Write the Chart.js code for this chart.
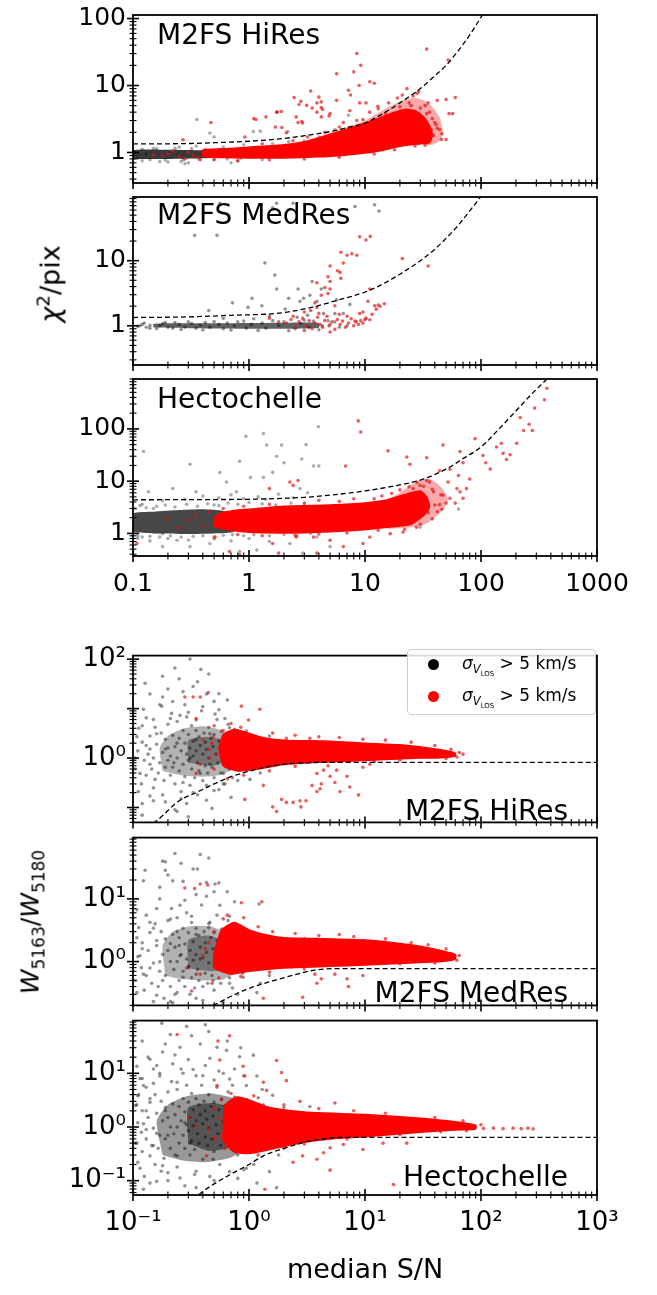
<!DOCTYPE html>
<html>
<head>
<meta charset="utf-8">
<script src="https://cdn.jsdelivr.net/npm/chart.js@4.4.1/dist/chart.umd.min.js"></script>
<style>
body{margin:0;background:#fff;width:657px;height:1295px;position:relative;overflow:hidden;font-family:'DejaVu Sans',sans-serif;}
canvas{position:absolute;left:0;}
.t{position:absolute;white-space:nowrap;line-height:1;color:#000;}
.t sub,.t sup{font-size:68%;line-height:0;}
.dot{position:absolute;width:11px;height:11px;border-radius:50%;}
</style>
</head>
<body>
<script>
// ---- chi2/pix vs median S/N : M2FS HiRes ----
const hiChiCut = [[0.1,1.34],[0.3,1.36],[0.5,1.4],[1,1.47],[2,1.62],[3,1.78],[5,2.05],[7,2.35],[10,2.75],[15,4.0],[20,5.5],[30,9],[40,14],[50,20],[60,29],[70,41],[80,57],[90,78],[100,105],[105,120]];
const hiChiBlackCore = [[0.1,0.8],[0.1,1.08],[0.2,1.1],[0.4,1.08],[0.7,1.05],[1.0,1.02],[1.0,0.88],[0.7,0.84],[0.4,0.82],[0.2,0.8],[0.1,0.8]];
const hiChiBlack = [[0.355,3.1],[0.46,1.95],[0.5,1.7],[1.09,2.05],[1.25,2.08],[2.16,2.05],[7.2,3.6],[0.12,0.75],[0.15,1.15],[0.2,0.72],[0.25,1.2],[0.3,0.7],[0.35,1.25],[0.6,1.2],[0.8,0.74],[0.9,1.3],[1.3,0.78],[1.6,1.35],[2.2,1.45],[3,1.5],[4,1.7],[5.5,2.2],[0.28,0.68],[0.7,0.7],[1.5,1.1],[2.5,1.2],[3.5,1.3],[0.17,0.73],[0.26,0.73],[0.13,0.95],[0.45,0.92],[0.65,0.9],[0.1,0.9],[0.105,1.0],[0.11,0.82],[0.12,1.12],[0.14,0.78],[0.16,1.14],[0.19,0.77],[0.23,1.15],[0.27,0.78],[0.32,1.14],[0.37,0.8],[0.42,1.12],[0.5,0.8],[0.56,1.1],[0.65,0.8],[0.75,1.08],[0.85,0.82],[1.0,1.06],[1.1,0.85],[1.2,1.0],[1.4,0.9],[1.7,1.05],[2.0,0.88]];
const hiChiRedHalo = [[3,1.45],[6,2.2],[10,3.0],[14,4.2],[18,5.3],[22,6.2],[27,6.5],[32,6.0],[38,4.8],[44,3.3],[47,2.0],[44,1.5],[38,1.3],[30,1.3],[20,1.2],[10,1.0],[3,1.45]];
const hiChiRedCore = [[0.4,1.1],[0.7,1.15],[1,1.2],[2,1.3],[3,1.45],[4,1.65],[5.5,1.95],[8,2.4],[11,2.9],[14,3.4],[18,4.0],[22,4.4],[27,4.2],[32,3.4],[36,2.5],[38,1.8],[36,1.4],[30,1.35],[24,1.3],[19,1.22],[14,1.07],[10,0.98],[7,0.92],[4,0.86],[2,0.83],[1,0.83],[0.6,0.84],[0.4,0.88],[0.4,1.1]];
const hiChiRed = [[8.5,30],[34,35],[52,24],[9.2,20],[8.0,16],[5.7,15],[7.2,8.5],[8.9,10],[11,11.4],[12,10.8],[3.4,8.3],[4,6.7],[2.45,6.6],[4.2,5.7],[5.7,6],[7.5,7.2],[10.2,5.5],[2.7,5.2],[3.5,4.6],[4.3,4.4],[1.75,4.0],[1.15,3.1],[1.4,3.4],[2.85,2.9],[4.2,3.4],[23,9],[29,8.1],[50,6.2],[60,6.6],[42,6],[33,5],[57,3.8],[50,1.56],[39,1.8],[0.47,2.8],[1.1,3.2],[1.73,4.0],[1.9,4.1],[0.27,1.55],[0.92,1.7],[1.69,2.4],[1.92,2.36],[2.1,1.97],[2.8,5.8],[3.14,5.05],[3.85,5.5],[4.2,4.7],[5.0,3.8],[2.65,2.8],[2.9,2.76],[3.85,4.0],[4.9,3.5],[2.55,3.4],[9.0,5.5],[7.4,4.2],[11,4.0],[12.9,4.9],[9.6,3.1],[53,3.8],[45.6,1.57],[41,2.6],[37.5,2.16],[31.6,2.5],[35,5.5],[36,4],[0.2,0.95],[0.25,0.88],[0.3,1.0],[0.33,0.9],[0.36,0.85],[0.22,1.05],[0.28,0.8],[0.18,0.9],[0.38,0.78],[0.15,0.92],[1.3,1.35],[2.4,1.5],[3.2,1.7],[4.5,2.0],[6,2.4],[6.5,2.8],[8.5,3.0],[13,4.5],[16,5.5],[19,6.5],[21,7.2],[26,7.0],[28,7.6],[24,5.5],[30,3.5],[38,3.2],[42,2.3],[46,1.9],[0.5,0.78],[0.8,0.76],[1.5,0.78],[3,0.8],[6,0.85],[12,0.95],[18,1.1],[27,1.25],[33,1.28],[15,3.8],[20,4.8],[25,5.0],[30,4.6],[34,3.8],[40,2.8],[44,2.2]];

// ---- M2FS MedRes ----
const medChiCut = [[0.1,1.34],[0.3,1.37],[0.7,1.45],[1.8,1.56],[3.6,1.95],[5.7,2.45],[10,3.3],[15,4.6],[20,6.2],[30,10],[40,15],[50,22],[60,31],[70,43],[80,58],[90,76],[100,97]];
const medChiBlackCore = [[0.15,0.94],[0.15,1.07],[0.3,1.09],[0.6,1.09],[1,1.1],[2,1.11],[3,1.12],[4,1.1],[4,0.93],[3,0.91],[2,0.9],[1,0.9],[0.6,0.91],[0.3,0.92],[0.15,0.94]];
const medChiBlack = [[0.34,24.5],[0.53,24.5],[0.56,76],[1.6,65],[1.73,76],[2.4,76],[8.2,68],[12.1,72],[13.2,58],[1.37,9.2],[1.67,6.0],[1.73,3.67],[1.06,2.65],[0.72,2.25],[0.45,1.72],[0.98,1.92],[1.29,2.03],[2.2,2.65],[2.65,3.67],[3.5,4.8],[2.75,2.38],[2.96,2.65],[3.35,2.95],[3.85,2.38],[4.2,3.67],[5.7,2.5],[7.4,2.13],[2.05,1.81],[4.4,1.54],[5.5,1.54],[6.5,1.54],[0.11,0.98],[0.12,1.05],[0.13,0.95],[0.14,1.02],[0.16,0.9],[0.18,1.08],[0.2,0.95],[0.23,1.12],[0.26,0.88],[0.3,1.15],[0.4,0.86],[0.5,1.16],[0.7,0.86],[0.9,1.18],[1.2,0.85],[1.6,1.2],[2.2,0.84],[3,1.22],[4,0.87],[5,1.05],[5.5,1.15],[6,0.95],[7,1.0],[0.115,1.0],[0.125,1.1],[0.14,0.92],[0.17,1.0],[0.19,1.12],[0.22,0.92],[0.25,1.05],[0.28,0.95],[0.32,1.08],[0.35,0.92],[0.38,1.02],[0.42,1.12],[0.46,0.95],[0.55,1.05],[0.6,0.9],[0.65,1.1],[0.75,1.0],[0.8,1.15],[0.95,0.92],[1.05,1.05],[1.3,1.1],[1.4,0.92],[1.8,1.02],[2.0,1.15],[2.5,0.9],[2.8,1.08],[3.3,0.95],[3.6,1.18],[4.3,1.0],[4.8,1.2],[1.5,1.4],[2.6,1.35],[3.2,1.45],[0.6,1.3],[1.1,1.28]];
const medChiRed = [[3.85,4.57],[4.8,5.66],[5.0,8.3],[5.8,7.0],[6.2,13.5],[6.5,9.2],[7.0,12.1],[7.7,12.8],[8.5,12.1],[9.0,23.2],[10.2,20.8],[11.1,23.6],[5.0,4.8],[6.2,5.35],[6.1,6.6],[4.5,3.88],[5.0,3.67],[4.2,2.95],[4.8,3.12],[3.7,2.25],[3.85,1.92],[3.0,1.63],[3.4,1.72],[5.5,2.03],[9.0,1.54],[9.6,1.63],[10.6,2.38],[11,3.67],[12.1,2.03],[13,2.09],[14.7,2.18],[10.2,1.31],[11,1.24],[8.2,1.18],[21,10.8],[35,8.3],[2.1,1.1],[2.3,1.25],[2.5,0.95],[2.7,1.15],[2.9,1.3],[3.1,1.0],[3.3,1.2],[3.5,0.9],[3.7,1.1],[3.9,1.35],[4.1,1.05],[4.3,0.95],[4.5,1.2],[4.7,1.4],[4.9,1.0],[5.2,1.15],[5.5,0.88],[5.8,1.25],[6.1,1.05],[6.4,1.18],[6.8,0.95],[7.2,1.1],[7.6,1.28],[8.0,1.0],[8.4,1.15],[8.8,1.05],[9.2,1.2],[9.6,1.1],[10,1.25],[5.0,0.8],[3.0,0.85],[2.4,1.4],[1.8,1.15],[1.5,1.3],[6.0,1.5],[4.0,1.55],[7.0,1.4],[11.5,1.5],[12.5,1.8],[13.5,2.0]];

// ---- Hectochelle ----
const hecChiCut = [[0.1,4.4],[0.5,4.45],[1,4.5],[2,4.7],[3,4.9],[5,5.4],[10,6.5],[20,8.5],[30,10.5],[50,17],[70,27],[100,45],[140,95],[200,220],[270,450],[330,700],[380,950]];
const hecChiBlackCore = [[0.1,1.05],[0.1,2.4],[0.15,2.6],[0.25,2.8],[0.4,2.9],[0.6,2.7],[0.75,2.3],[0.75,1.1],[0.5,1.0],[0.3,0.98],[0.15,1.0],[0.1,1.05]];
const hecChiBlack = [[3.96,110],[1.33,81],[0.94,72],[1.42,49],[1.91,49],[3.1,50],[1.73,30],[0.83,24],[0.31,21],[0.123,37],[0.56,14.7],[2.0,22.5],[2.85,26.6],[4.0,19.5],[1.03,11.8],[0.64,9.6],[0.35,6.25],[0.22,7.2],[1.33,11.8],[1.6,14.7],[2.75,7.2],[3.6,19.5],[0.78,6.25],[0.136,6.25],[64,2.94],[29.8,1.31],[0.18,0.99],[0.31,0.56],[0.18,0.56],[0.46,0.64],[0.83,0.45],[1.17,0.48],[2.25,0.64],[2.9,0.42],[5.0,0.56],[3.85,0.85],[0.24,0.74],[0.12,3.6],[0.18,4.2],[0.28,4.5],[0.4,5.2],[0.55,4.8],[0.7,5.5],[0.9,4.6],[1.2,5.0],[1.8,5.6],[2.4,4.8],[3.2,6],[0.11,0.8],[0.14,0.72],[0.2,0.8],[0.3,0.75],[0.5,0.78],[0.7,0.72],[1,0.8],[1.5,0.7],[0.15,3.0],[0.5,3.5],[1.4,4.5],[0.105,3.0],[0.11,0.9],[0.115,3.4],[0.12,0.85],[0.13,3.1],[0.14,0.88],[0.16,3.3],[0.17,0.85],[0.19,3.5],[0.21,0.9],[0.23,3.2],[0.26,0.85],[0.29,3.6],[0.33,0.88],[0.36,3.3],[0.4,0.9],[0.44,3.7],[0.5,0.85],[0.55,3.4],[0.6,0.92],[0.66,3.8],[0.72,0.95],[0.8,3.6],[0.9,0.9],[1.0,3.9],[1.1,0.95],[1.3,3.7],[1.5,0.9],[1.7,3.5],[2.0,0.95],[2.3,3.8],[2.6,0.9],[3.0,3.5],[3.4,1.0],[0.7,2.0],[0.85,1.5],[1.2,2.5]];
const hecChiRedHalo = [[15,4.3],[20,6],[25,8.5],[30,10.5],[36,11],[42,9],[48,6.5],[52,4.5],[48,3],[42,2.2],[35,1.6],[28,1.35],[20,1.25],[15,1.3],[15,4.3]];
const hecChiRedCore = [[0.5,1.35],[0.52,2.2],[0.7,2.7],[1.2,3.0],[2,3.3],[5,3.5],[10,3.8],[15,4.3],[20,5.2],[25,6],[30,6.5],[34,5],[36,3.2],[32,2.2],[25,1.5],[18,1.35],[10,1.18],[5,1.08],[2,1.02],[1,1.05],[0.7,1.15],[0.5,1.35]];
const hecChiRed = [[8.75,142],[9.2,87],[6.8,19.5],[2.65,10.3],[2.4,8.3],[15.8,38],[22.9,29],[24.4,21],[34,28],[44,15.8],[47,49],[70,22.5],[66,37],[89,65],[104,31],[120,17],[136,45],[150,53],[166,26],[178,32],[203,53],[218,165],[233,93],[260,123],[277,93],[290,250],[353,360],[370,600],[110,22.5],[155,34],[52,9.6],[62,7.2],[75,7.2],[64,12.8],[54,16.9],[80,11],[36,9.6],[39,6.25],[47,5.4],[54,4.7],[60,3.8],[70,4.7],[44,3.55],[35,2.5],[66,6.25],[29.8,8.3],[26,7.2],[34,10.3],[1.6,0.64],[1.8,0.42],[3.6,0.85],[5.0,0.74],[3.85,0.42],[6.5,0.56],[9.6,0.64],[11,0.85],[16.5,0.99],[21.3,1.06],[27.8,1.31],[2.55,0.85],[0.68,0.45],[0.83,0.39],[0.108,0.64],[0.51,0.85],[1.09,1.5],[1.5,7.2],[2.25,9.6],[0.3,1.8],[0.35,2.2],[0.4,1.4],[0.45,2.6],[0.25,1.3],[0.2,2.0],[0.6,3.0],[0.9,3.3],[1.5,3.6],[3,3.8],[4,4.3],[6,4.1],[8,4.6],[12,4.6],[14,5.2],[17,5.8],[20,6.8],[0.8,0.95],[1.3,0.9],[2.5,0.92],[4,0.98],[7,1.02],[13,1.15],[22,1.2],[30,1.5],[38,1.9],[42,2.6],[40,3.5],[12,2.5],[7,2.2],[24,7.8],[28,9.5],[32,8],[38,7],[45,5.5],[50,3.8],[46,2.9]];

// ---- W5163/W5180 vs median S/N : M2FS HiRes ----
const hiWCut = [[0.13,0.04],[0.16,0.054],[0.25,0.137],[0.35,0.2],[0.5,0.3],[0.7,0.42],[1,0.54],[1.5,0.68],[2,0.75],[3,0.8],[5,0.82],[10,0.82],[100,0.82],[1000,0.82]];
const hiWBlackCore = [[0.18,0.55],[0.17,1.6],[0.2,2.8],[0.28,4],[0.4,4.4],[0.55,3.8],[0.7,2.6],[0.78,1.4],[0.72,0.6],[0.55,0.45],[0.4,0.42],[0.26,0.45],[0.18,0.55]];
const hiWBlackCore2 = [[0.3,0.8],[0.3,2.3],[0.45,2.7],[0.62,2.2],[0.66,1],[0.5,0.7],[0.3,0.8]];
const hiWBlack = [[0.31,101],[0.23,66],[0.385,62],[0.127,32.6],[0.14,19.8],[0.123,9.7],[0.18,17.2],[0.177,11.2],[0.22,13.9],[0.254,7.3],[0.21,6.3],[0.3,8.4],[0.35,5.9],[0.43,19.8],[0.51,7.8],[0.62,6.3],[0.68,4.1],[0.108,2.7],[0.104,1.0],[0.115,0.49],[0.111,0.21],[0.14,1.53],[0.14,0.75],[0.16,3.1],[0.155,0.37],[0.18,0.18],[0.19,1.53],[0.22,0.65],[0.24,2.0],[0.27,0.32],[0.31,1.0],[0.35,2.35],[0.38,0.49],[0.43,0.28],[0.46,3.1],[0.46,0.75],[0.56,1.53],[0.6,0.49],[0.68,0.87],[0.78,2.0],[0.83,0.57],[0.95,1.33],[1.02,0.37],[0.48,0.096],[0.29,0.12],[0.15,0.137],[0.24,0.083],[0.12,4.5],[0.13,1.8],[0.15,6],[0.2,0.9],[0.2,25],[0.25,40],[0.28,12],[0.33,28],[0.4,11],[0.5,14],[0.55,9.5],[0.65,3.2],[0.72,1.2],[0.9,2.4],[1.1,1.8],[1.3,0.9],[1.5,2.8],[0.26,0.21],[0.36,0.18],[0.5,0.22],[0.62,0.3],[0.12,0.12],[0.3,0.065],[0.7,0.16],
  [0.105,0.6],[0.11,1.4],[0.112,4.0],[0.118,0.3],[0.12,2.1],[0.125,0.9],[0.13,6.5],[0.13,0.45],[0.135,1.2],[0.14,2.8],[0.145,0.6],[0.15,0.25],[0.15,1.0],[0.155,4.2],[0.16,1.9],[0.165,0.5],[0.17,0.8],[0.17,12],[0.175,3.2],[0.18,1.3],[0.185,0.35],[0.19,2.4],[0.19,0.65],[0.2,4.8],[0.2,1.6],[0.21,0.45],[0.21,1.1],[0.215,8],[0.22,2.9],[0.225,0.8],[0.23,0.3],[0.23,1.7],[0.24,5.5],[0.24,1.0],[0.25,0.55],[0.25,2.5],[0.26,0.15],[0.26,1.4],[0.27,3.6],[0.27,0.75],[0.28,2.0],[0.28,0.42],[0.29,1.2],[0.29,6.8],[0.3,0.9],[0.3,3.0],[0.31,0.28],[0.31,1.6],[0.32,4.5],[0.32,0.6],[0.33,2.2],[0.33,1.1],[0.34,0.4],[0.35,1.4],[0.35,3.6],[0.36,0.8],[0.37,2.7],[0.37,0.55],[0.38,1.8],[0.39,9],[0.4,1.2],[0.4,0.35],[0.41,3.2],[0.42,0.7],[0.42,2.1],[0.43,1.5],[0.44,0.5],[0.45,4.2],[0.45,1.0],[0.47,2.5],[0.48,0.65],[0.49,1.7],[0.5,0.4],[0.5,3.0],[0.52,1.2],[0.53,6],[0.54,0.8],[0.55,2.2],[0.57,0.5],[0.58,3.5],[0.6,1.4],[0.6,0.3],[0.62,2.6],[0.64,0.9],[0.66,4.8],[0.68,0.6],[0.7,1.8],[0.72,0.4],[0.75,3.8],[0.78,1.1],[0.8,0.35],[0.85,2.6],[0.88,0.7],[0.95,3.5],[1.0,0.8],[1.05,2.2],[1.15,1.2],[1.25,0.5],[1.35,1.6],[0.19,0.13],[0.23,0.09],[0.33,0.2],[0.43,0.14],[0.55,0.23],[0.14,0.17],[0.12,0.07],[0.65,15],[0.18,45],[0.36,35],[0.45,50],[0.27,22],[0.55,20]];
const hiWRedCore = [[0.55,1.6],[0.6,3],[0.75,3.8],[0.95,3.3],[1.3,2.6],[2,2.3],[5,2.2],[10,2.0],[20,1.85],[35,1.6],[50,1.4],[60,1.25],[60,1.1],[45,1.02],[30,1.0],[15,0.93],[8,0.87],[4,0.82],[2,0.74],[1.2,0.6],[0.8,0.55],[0.6,0.7],[0.55,1.6]];
const hiWRed = [[0.28,17.2],[0.33,17.2],[0.38,17.2],[0.445,21],[0.35,6.3],[0.49,2.7],[0.86,11.2],[0.99,5.9],[1.24,9.7],[2.1,2.5],[3.35,2.5],[9.6,2.4],[0.92,0.146],[1.6,0.103],[1.91,0.146],[2.1,0.127],[2.4,0.127],[2.75,0.137],[2.8,0.103],[3.1,0.137],[3.85,0.21],[4.1,0.24],[4.2,0.3],[5.0,0.43],[5.5,0.32],[7.0,0.43],[7.4,0.26],[8.8,0.18],[1.73,0.083],[1.33,0.28],[3.85,0.49],[4.4,0.57],[4.8,0.7],[5.7,0.57],[9.6,0.65],[11,0.75],[6.1,0.21],[3.5,0.28],[0.38,0.75],[0.35,0.49],[0.46,1.0],[0.4,2.35],[0.5,4.5],[0.7,5],[1.6,3.2],[2.5,2.9],[4,2.7],[6,2.6],[15,2.3],[25,2.1],[40,1.8],[55,1.5],[65,1.3],[70,1.2],[62,1.05],[50,0.98],[2.5,0.68],[1.5,0.55],[0.9,0.45],[12,0.85],[20,0.9],[0.5,0.6],[0.65,0.38],[0.52,1.2],[0.48,2.0],[0.45,1.5],[0.6,3.6],[0.85,4.2]];

// ---- M2FS MedRes ----
const medWCut = [[0.49,0.2],[0.56,0.225],[0.7,0.28],[0.95,0.36],[1.3,0.44],[1.85,0.53],[2.5,0.62],[3.35,0.71],[4.4,0.76],[5.5,0.77],[10,0.77],[1000,0.77]];
const medWBlackCore = [[0.19,0.6],[0.18,1.8],[0.22,3.0],[0.32,3.7],[0.48,3.6],[0.66,2.7],[0.8,1.4],[0.76,0.68],[0.6,0.52],[0.36,0.5],[0.24,0.54],[0.19,0.6]];
const medWBlackCore2 = [[0.3,0.78],[0.3,2.2],[0.45,2.6],[0.62,2.0],[0.66,0.9],[0.5,0.7],[0.3,0.78]];
const medWBlack = [[0.23,53],[0.38,51],[0.19,39],[0.26,37],[0.127,28.7],[0.19,28.7],[0.22,19.4],[0.17,15.4],[0.123,19.4],[0.35,11.7],[0.43,18.3],[0.51,17.3],[0.43,11],[0.56,7.9],[1.22,8.3],[0.254,7.9],[0.16,7.0],[0.108,6.7],[0.14,4.25],[0.21,4.75],[0.32,5.3],[0.46,4.25],[0.68,5.3],[0.78,3.6],[0.108,2.4],[0.16,2.17],[0.24,3.0],[0.35,2.7],[0.53,2.17],[0.115,1.24],[0.17,0.99],[0.254,1.24],[0.38,1.1],[0.53,0.88],[0.123,0.63],[0.18,0.5],[0.27,0.56],[0.35,0.63],[0.49,0.5],[0.68,0.45],[0.89,0.56],[0.108,0.32],[0.16,0.29],[0.24,0.32],[0.35,0.26],[0.21,0.23],[1.17,0.32],[0.14,0.79],[0.21,1.94],[0.68,1.55],[0.95,1.0],[1.03,3.0],[0.12,1.6],[0.15,3.4],[0.25,1.8],[0.3,0.8],[0.4,0.4],[0.45,3.5],[0.6,1.2],[0.6,0.7],[0.8,2.2],[0.9,0.7],[1.1,1.4],[1.3,2.2],[1.5,0.6],[0.28,9.5],[0.5,13],[0.75,9],[0.2,24],[0.33,30],
  [0.105,0.5],[0.11,1.2],[0.112,3.5],[0.118,0.8],[0.12,2.0],[0.125,0.35],[0.13,5.5],[0.13,0.6],[0.135,1.5],[0.14,2.9],[0.145,0.45],[0.15,0.95],[0.155,4.0],[0.16,1.8],[0.165,0.4],[0.17,0.7],[0.17,10],[0.175,3.0],[0.18,1.3],[0.185,0.26],[0.19,2.3],[0.19,0.6],[0.2,4.5],[0.2,1.5],[0.21,0.4],[0.21,1.0],[0.215,7],[0.22,2.7],[0.225,0.75],[0.23,0.3],[0.23,1.7],[0.24,5],[0.24,1.0],[0.25,0.5],[0.25,2.4],[0.26,1.3],[0.27,3.4],[0.27,0.7],[0.28,1.9],[0.28,0.4],[0.29,1.1],[0.29,6],[0.3,0.85],[0.3,2.9],[0.31,0.3],[0.31,1.5],[0.32,4.2],[0.32,0.55],[0.33,2.1],[0.33,1.05],[0.34,0.38],[0.35,1.3],[0.35,3.4],[0.36,0.75],[0.37,2.6],[0.37,0.5],[0.38,1.7],[0.39,8],[0.4,1.15],[0.41,3.0],[0.42,0.65],[0.42,2.0],[0.43,1.4],[0.44,0.45],[0.45,4],[0.45,0.95],[0.47,2.4],[0.48,0.6],[0.49,1.6],[0.5,0.35],[0.5,2.9],[0.52,1.1],[0.53,5.5],[0.54,0.75],[0.55,2.1],[0.57,0.45],[0.58,3.3],[0.6,1.3],[0.62,2.5],[0.64,0.85],[0.66,4.5],[0.68,0.55],[0.7,1.7],[0.72,0.38],[0.75,3.6],[0.78,1.0],[0.8,0.3],[0.85,2.4],[0.88,0.65],[0.95,3.2],[1.0,0.75],[1.05,2.0],[1.15,1.1],[1.25,0.45],[1.35,1.5],[0.65,13],[0.18,40],[0.36,30],[0.45,45],[0.27,19],[0.55,18],[0.22,0.22],[0.4,0.24],[0.6,0.22],[0.15,0.23]];
const medWRedCore = [[0.5,1.4],[0.58,3.2],[0.75,4.2],[1.0,3.2],[1.5,2.6],[2,2.4],[5,2.3],[10,2.2],[20,1.95],[30,1.75],[45,1.5],[60,1.3],[60,1.1],[45,1.0],[30,0.97],[10,0.88],[5,0.84],[2,0.79],[1,0.7],[0.7,0.63],[0.5,0.8],[0.5,1.4]];
const medWRed = [[0.28,14.9],[0.34,14.6],[0.38,17.3],[0.44,16.7],[0.86,8.7],[1.29,9],[2.05,2.3],[3.0,2.34],[9.6,2.17],[13.9,1.64],[1.33,0.26],[2.9,0.27],[3.85,0.45],[4.2,0.53],[7.0,0.53],[7.2,0.4],[3.7,0.63],[5.5,0.63],[9.6,0.6],[0.32,0.34],[0.38,0.63],[0.48,0.45],[0.4,1.25],[0.29,0.79],[0.6,4.8],[0.9,5],[1.2,3.6],[1.6,3.0],[2.5,2.8],[4,2.6],[6,2.7],[8,2.5],[15,2.3],[25,2.0],[35,1.85],[50,1.6],[65,1.25],[62,1.05],[40,0.95],[20,0.92],[3,0.76],[1.5,0.68],[0.85,0.58],[0.55,0.55],[0.45,2.0],[0.42,1.6],[0.5,3.0],[0.65,5.5]];

// ---- Hectochelle ----
const hecWCut = [[0.37,0.055],[0.45,0.075],[0.68,0.128],[1,0.2],[1.33,0.29],[2,0.4],[2.55,0.47],[3.5,0.56],[5,0.62],[6,0.64],[10,0.64],[1000,0.64]];
const hecWBlackCore = [[0.18,0.3],[0.16,1.3],[0.2,2.6],[0.3,3.8],[0.48,4.2],[0.75,3.4],[1.0,2.2],[1.1,1],[0.95,0.42],[0.7,0.27],[0.42,0.22],[0.26,0.24],[0.18,0.3]];
const hecWBlackCore2 = [[0.3,0.5],[0.3,2.3],[0.5,2.8],[0.75,2.1],[0.85,0.8],[0.68,0.42],[0.45,0.36],[0.3,0.5]];
const hecWBlack = [[0.177,86],[0.29,75],[0.42,80],[0.21,53],[0.32,50],[0.18,25],[0.14,18.3],[0.254,30.5],[0.38,35],[0.46,19.1],[0.53,30.5],[0.64,26.8],[0.83,20.4],[1.09,21.8],[1.17,8.9],[0.108,13.5],[0.123,5.9],[0.17,8.9],[0.24,6.8],[0.33,11.8],[0.68,7.8],[0.108,2.6],[0.14,3.4],[0.19,2.0],[0.123,1.15],[0.16,0.76],[0.108,0.5],[0.14,0.29],[0.115,0.17],[0.18,0.19],[0.16,0.097],[0.123,0.069],[0.254,0.112],[0.24,0.29],[0.31,0.5],[0.49,0.25],[0.68,0.147],[0.95,0.17],[1.5,0.147],[1.73,0.074],[0.35,0.074],[1.17,0.09],[1.42,0.38],[1.6,3.9],[1.33,2.6],[2.0,2.3],[3.35,2.4],[0.95,5.9],[0.12,40],[0.15,12],[0.22,15],[0.27,10],[0.4,9],[0.55,11],[0.75,12],[0.9,9],[1.3,5],[0.12,8],[0.13,0.9],[0.2,0.7],[0.28,1.2],[0.15,0.45],[0.2,0.14],[0.35,0.15],[0.5,0.1],[0.8,0.11],[1.1,0.2],[1.8,0.5],[2.2,1.5],[1.6,0.9],[0.11,3.8],[0.13,2.0],
  [0.105,0.5],[0.105,2.5],[0.11,1.2],[0.11,0.22],[0.112,4.0],[0.115,8],[0.118,0.8],[0.12,2.0],[0.12,0.35],[0.125,0.12],[0.13,5.5],[0.13,0.6],[0.135,1.5],[0.135,20],[0.14,2.9],[0.14,0.09],[0.145,0.45],[0.15,0.95],[0.15,6.5],[0.155,4.0],[0.155,0.2],[0.16,1.8],[0.16,14],[0.165,0.4],[0.17,0.7],[0.17,10],[0.175,3.0],[0.175,0.15],[0.18,1.3],[0.185,0.26],[0.19,2.3],[0.19,0.6],[0.19,35],[0.2,4.5],[0.2,1.5],[0.2,0.1],[0.21,0.4],[0.21,1.0],[0.215,7],[0.22,2.7],[0.225,0.75],[0.23,0.3],[0.23,1.7],[0.23,22],[0.24,5],[0.24,1.0],[0.24,0.18],[0.25,0.5],[0.25,2.4],[0.26,1.3],[0.26,12],[0.27,3.4],[0.27,0.7],[0.28,1.9],[0.28,0.4],[0.28,0.08],[0.29,1.1],[0.29,6],[0.3,0.85],[0.3,2.9],[0.3,18],[0.31,0.3],[0.31,1.5],[0.32,4.2],[0.32,0.55],[0.33,2.1],[0.33,1.05],[0.34,0.38],[0.34,0.13],[0.35,1.3],[0.35,3.4],[0.35,9],[0.36,0.75],[0.37,2.6],[0.37,0.5],[0.38,1.7],[0.39,6],[0.4,1.15],[0.4,0.25],[0.41,3.0],[0.42,0.65],[0.42,2.0],[0.42,14],[0.43,1.4],[0.44,0.45],[0.45,4],[0.45,0.95],[0.46,0.12],[0.47,2.4],[0.48,0.6],[0.49,1.6],[0.5,0.35],[0.5,2.9],[0.5,7.5],[0.52,1.1],[0.53,5.5],[0.54,0.75],[0.55,2.1],[0.56,0.2],[0.57,0.45],[0.58,3.3],[0.6,1.3],[0.6,10],[0.62,2.5],[0.64,0.85],[0.66,4.5],[0.68,0.55],[0.7,1.7],[0.72,0.38],[0.72,6],[0.75,3.6],[0.78,1.0],[0.8,0.3],[0.85,2.4],[0.88,0.65],[0.9,0.16],[0.95,3.2],[1.0,0.75],[1.05,2.0],[1.1,0.4],[1.15,1.1],[1.2,3.5],[1.25,0.45],[1.35,1.5],[1.5,0.7],[1.6,1.9],[1.8,0.3],[0.65,40],[0.45,60],[0.85,30]];
const hecWRedCore = [[0.6,0.9],[0.62,2.5],[0.78,3.6],[1.0,3.2],[1.5,2.3],[3,1.9],[10,1.7],[30,1.45],[60,1.25],[90,1.08],[90,0.92],[60,0.88],[30,0.8],[10,0.66],[5,0.6],[3,0.52],[1.5,0.38],[1,0.32],[0.75,0.34],[0.6,0.55],[0.6,0.9]];
const hecWRed = [[86,0.93],[105,0.94],[128,0.95],[155,0.93],[189,0.95],[222,0.93],[254,0.95],[281,0.92],[1.73,17.3],[1.91,10.3],[2.1,7.3],[0.68,50],[0.54,40],[0.24,53],[0.89,13.5],[0.92,8.9],[1.33,6.8],[1.42,4.8],[5.5,2.8],[2.75,3.0],[5.0,0.41],[3.85,0.25],[5.0,0.157],[9.6,0.38],[17.6,0.085],[4.4,0.33],[2.4,0.22],[1.37,0.069],[2.9,0.29],[6.5,0.47],[14.3,0.5],[22.9,0.5],[0.64,0.5],[0.43,0.29],[0.49,0.66],[0.35,1.0],[0.31,1.5],[0.53,5.9],[0.56,17.7],[0.7,4.2],[1.1,3.8],[2,2.6],[4,2.2],[8,2.0],[15,1.8],[40,1.5],[70,1.3],[100,1.1],[75,0.85],[45,0.82],[20,0.72],[7,0.6],[3,0.48],[2,0.4],[1.2,0.3],[0.55,1.5],[0.5,2.2],[0.45,0.9],[0.58,3.2],[0.52,0.6],[0.62,0.4]];

// axis ticks
const snDecades = [-1, 0, 1, 2, 3];

const SUP = {'-':'⁻','0':'⁰','1':'¹','2':'²','3':'³'};
const plainLabel = e => e < 0 ? '0.1' : String(Math.pow(10, e));
const powLabel = e => '10' + String(e).split('').map(c => SUP[c]).join('');

const GREY_DOT = 'rgba(0,0,0,0.32)';
const DARK_DOT = 'rgba(0,0,0,0.42)';
const RED_DOT = 'rgba(222,18,18,0.68)';

const panels = [
  {top: 8, bottom: 190, ymin: 0.35, ymax: 113, yDec: [0,1,2], fmt: plainLabel, showX: false, fs: 25,
   layers: [[hiChiBlackCore,'rgba(0,0,0,0.78)'],[hiChiBlack,GREY_DOT,1],[hiChiRedHalo,'rgba(238,30,30,0.38)'],[hiChiRedCore,'rgb(255,0,0)'],[hiChiRed,RED_DOT,1]], cut: hiChiCut},
  {top: 190, bottom: 372, ymin: 0.25, ymax: 95, yDec: [0,1], fmt: plainLabel, showX: false, fs: 25,
   layers: [[medChiBlackCore,'rgba(0,0,0,0.62)'],[medChiBlack,DARK_DOT,1],[medChiRed,RED_DOT,1]], cut: medChiCut},
  {top: 372, bottom: 556, ymin: 0.37, ymax: 900, yDec: [0,1,2], fmt: plainLabel, showX: true, fs: 25,
   layers: [[hecChiBlackCore,'rgba(0,0,0,0.72)'],[hecChiBlack,GREY_DOT,1],[hecChiRedHalo,'rgba(238,30,30,0.38)'],[hecChiRedCore,'rgb(255,0,0)'],[hecChiRed,RED_DOT,1]], cut: hecChiCut},
  {top: 648, bottom: 830, ymin: 0.05, ymax: 118, yDec: [0,2], fmt: powLabel, showX: false, fs: 26,
   layers: [[hiWBlackCore,'rgba(0,0,0,0.3)'],[hiWBlackCore2,'rgba(0,0,0,0.35)'],[hiWBlack,DARK_DOT,1],[hiWRedCore,'rgb(255,0,0)'],[hiWRed,RED_DOT,1]], cut: hiWCut},
  {top: 830, bottom: 1013, ymin: 0.2, ymax: 95, yDec: [0,1], fmt: powLabel, showX: false, fs: 26,
   layers: [[medWBlackCore,'rgba(0,0,0,0.3)'],[medWBlackCore2,'rgba(0,0,0,0.35)'],[medWBlack,DARK_DOT,1],[medWRedCore,'rgb(255,0,0)'],[medWRed,RED_DOT,1]], cut: medWCut},
  {top: 1013, bottom: 1195, ymin: 0.054, ymax: 96, yDec: [-1,0,1], fmt: powLabel, showX: true, fs: 26,
   layers: [[hecWBlackCore,'rgba(0,0,0,0.4)'],[hecWBlackCore2,'rgba(0,0,0,0.45)'],[hecWBlack,DARK_DOT,1],[hecWRedCore,'rgb(255,0,0)'],[hecWRed,RED_DOT,1]], cut: hecWCut}
];

const logTicks = {
  id: 'logTicks',
  afterDraw(chart) {
    const {ctx, chartArea: a, scales} = chart;
    ctx.save();
    ctx.strokeStyle = '#000';
    const draw = (s, horiz) => {
      const lo = Math.floor(Math.log10(s.min)), hi = Math.ceil(Math.log10(s.max));
      for (let e = lo; e <= hi; e++) {
        for (let m = 1; m <= 9; m++) {
          const v = m * Math.pow(10, e);
          if (v < s.min * 0.999 || v > s.max * 1.001) continue;
          const p = s.getPixelForValue(v);
          const len = m === 1 ? 6 : 3.5;
          ctx.lineWidth = m === 1 ? 1.6 : 1.1;
          ctx.beginPath();
          if (horiz) { ctx.moveTo(p, a.bottom - len); ctx.lineTo(p, a.bottom + len); }
          else { ctx.moveTo(a.left - len, p); ctx.lineTo(a.left + len, p); }
          ctx.stroke();
        }
      }
    };
    draw(scales.x, true);
    draw(scales.y, false);
    ctx.lineWidth = 1.8;
    ctx.strokeRect(a.left, a.top, a.right - a.left, a.bottom - a.top);
    ctx.restore();
  }
};

const toXY = arr => arr.map(p => ({x: p[0], y: p[1]}));

function decadeCallback(list, fmt) {
  return function(v) {
    const l = Math.log10(v), r = Math.round(l);
    if (Math.abs(l - r) > 1e-6 || list.indexOf(r) < 0) return '';
    return fmt(r);
  };
}

function makePanel(p) {
  const padTop = 15, padBot = p.showX ? 60 : 15;
  const cv = document.createElement('canvas');
  cv.width = 657;
  cv.height = p.bottom - p.top + padTop + padBot;
  cv.style.top = (p.top - padTop) + 'px';
  document.body.appendChild(cv);

  const n = p.layers.length + 1;
  const datasets = p.layers.map((L, i) => {
    if (L[2]) {
      return {type: 'scatter', data: toXY(L[0]), pointRadius: 1.8, pointBorderWidth: 0,
              pointBackgroundColor: L[1], backgroundColor: L[1], order: n - i};
    }
    // dense cloud outline, filled
    const solid = L[1].indexOf('rgb(') === 0;
    return {type: 'line', data: toXY(L[0]), fill: 'shape', backgroundColor: L[1],
            borderColor: L[1], borderWidth: solid ? 1.5 : 0, pointRadius: 0, tension: 0.2, order: n - i};
  });
  datasets.push({type: 'line', data: toXY(p.cut), fill: false, borderColor: '#000',
                 borderWidth: 1.3, borderDash: [5, 3], pointRadius: 0,
                 cubicInterpolationMode: 'monotone', order: 0});

  new Chart(cv, {
    type: 'scatter',
    data: {datasets},
    options: {
      responsive: false, animation: false, devicePixelRatio: 1, events: [],
      layout: {padding: {top: padTop, right: 60, left: 0, bottom: 0}},
      plugins: {legend: {display: false}, tooltip: {enabled: false}},
      scales: {
        x: {type: 'logarithmic', min: 0.1, max: 1000, position: 'bottom',
            grid: {display: false, drawTicks: false}, border: {display: false},
            ticks: {display: p.showX, autoSkip: false, maxRotation: 0, padding: 13, color: '#000',
                    font: {family: 'DejaVu Sans', size: p.fs},
                    callback: decadeCallback(snDecades, p.fmt)},
            afterFit: s => { s.height = padBot; }},
        y: {type: 'logarithmic', min: p.ymin, max: p.ymax, position: 'left',
            grid: {display: false, drawTicks: false}, border: {display: false},
            ticks: {autoSkip: false, padding: 7, color: '#000',
                    font: {family: 'DejaVu Sans', size: p.fs},
                    callback: decadeCallback(p.yDec, p.fmt)},
            afterFit: s => { s.width = 133; }}
      }
    },
    plugins: [logTicks]
  });
}

panels.forEach(makePanel);
</script>

<div class="t" style="left:157px;top:35px;transform:translateY(-50%);font-size:28px">M2FS HiRes</div>
<div class="t" style="left:157px;top:215px;transform:translateY(-50%);font-size:28px">M2FS MedRes</div>
<div class="t" style="left:157px;top:399px;transform:translateY(-50%);font-size:28px">Hectochelle</div>
<div class="t" style="right:89px;top:811px;transform:translateY(-50%);font-size:28px">M2FS HiRes</div>
<div class="t" style="right:89px;top:993px;transform:translateY(-50%);font-size:28px">M2FS MedRes</div>
<div class="t" style="right:89px;top:1177px;transform:translateY(-50%);font-size:28px">Hectochelle</div>

<div class="t" style="left:50px;top:284px;transform:translate(-50%,-50%) rotate(-90deg);font-size:27px"><i>χ</i><sup>2</sup>/pix</div>
<div class="t" style="left:30px;top:922px;transform:translate(-50%,-50%) rotate(-90deg);font-size:25px"><i>W</i><sub>5163</sub>/<i>W</i><sub>5180</sub></div>
<div class="t" style="left:365px;top:1268px;transform:translate(-50%,-50%);font-size:27px">median S/N</div>

<div style="position:absolute;left:407px;top:649px;width:189px;height:66px;border:1.5px solid #ccc;border-radius:4px;background:rgba(255,255,255,0.85);box-sizing:border-box"></div>
<div class="dot" style="left:428px;top:659px;background:#000"></div>
<div class="dot" style="left:428px;top:691px;background:#f00"></div>
<div class="t" style="left:462px;top:665px;transform:translateY(-50%);font-size:17px"><i>σ</i><sub><i>V</i><sub style="font-size:60%">LOS</sub></sub> &gt; 5 km/s</div>
<div class="t" style="left:462px;top:697px;transform:translateY(-50%);font-size:17px"><i>σ</i><sub><i>V</i><sub style="font-size:60%">LOS</sub></sub> &gt; 5 km/s</div>
</body>
</html>
